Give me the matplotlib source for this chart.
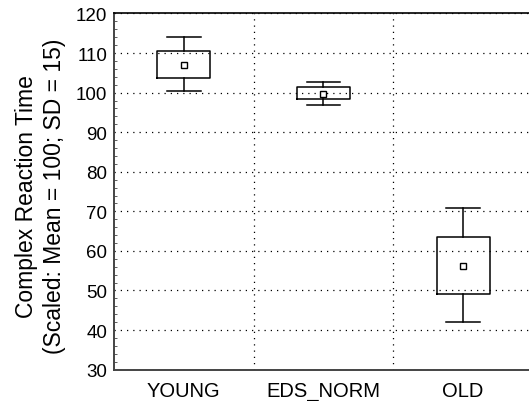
import numpy as np
import matplotlib.pyplot as plt
from matplotlib.ticker import MultipleLocator, FixedLocator

plt.rcParams['font.family'] = ['Liberation Sans', 'DejaVu Sans']

groups = ['YOUNG', 'EDS_NORM', 'OLD']
means = [106.9, 99.6, 56.2]
box_hi = [110.6, 101.3, 63.4]
box_lo = [103.6, 98.4, 49.1]
whisk_hi = [114.0, 102.8, 70.8]
whisk_lo = [100.3, 96.9, 42.0]

positions = np.arange(len(groups)) + 0.5

stats = []
for i, g in enumerate(groups):
    stats.append({'label': g, 'mean': means[i], 'med': means[i],
                  'q1': box_lo[i], 'q3': box_hi[i],
                  'whislo': whisk_lo[i], 'whishi': whisk_hi[i], 'fliers': []})

fig = plt.figure(figsize=(5.29, 4.02), dpi=100)
ax = fig.add_axes([0.2155, 0.078, 0.792, 0.886])

lw = 1.1
ax.bxp(stats, positions=positions, widths=0.38, capwidths=0.24,
       showmeans=True, showfliers=False,
       boxprops=dict(color='black', linewidth=lw),
       whiskerprops=dict(color='black', linewidth=lw),
       capprops=dict(color='black', linewidth=lw),
       medianprops=dict(linewidth=0),
       meanprops=dict(marker='s', markersize=5, markerfacecolor='white',
                      markeredgecolor='black', markeredgewidth=1.0))

ax.set_xlim(0, 3)
ax.set_ylim(30, 120)
ax.set_xticks(positions)
ax.set_xticklabels(groups)
ax.xaxis.set_minor_locator(FixedLocator([1, 2]))
ax.yaxis.set_major_locator(MultipleLocator(10))
ax.yaxis.set_minor_locator(MultipleLocator(2))

ax.tick_params(axis='x', which='both', length=0, labelsize=14.5, pad=8)
ax.tick_params(axis='y', which='major', length=0, labelsize=13.5, pad=5)
ax.tick_params(axis='y', which='minor', direction='in', length=2, width=0.6, color='#444444')

ax.grid(True, axis='y', which='major', linestyle=(0, (1, 4)), color='black', linewidth=0.9)
ax.grid(True, axis='x', which='minor', linestyle=(0, (1, 4)), color='black', linewidth=0.9)

for s in ['left', 'bottom']:
    ax.spines[s].set_color('#444444')
    ax.spines[s].set_linewidth(1.4)
ax.spines['top'].set_color('black')
ax.spines['top'].set_linewidth(1.2)
ax.spines['right'].set_visible(False)

ax.set_ylabel('Complex Reaction Time\n(Scaled: Mean = 100; SD = 15)', fontsize=16.5, linespacing=1.25)
ax.yaxis.set_label_coords(-0.115, 0.49)

fig.savefig('out.png', dpi=100)
